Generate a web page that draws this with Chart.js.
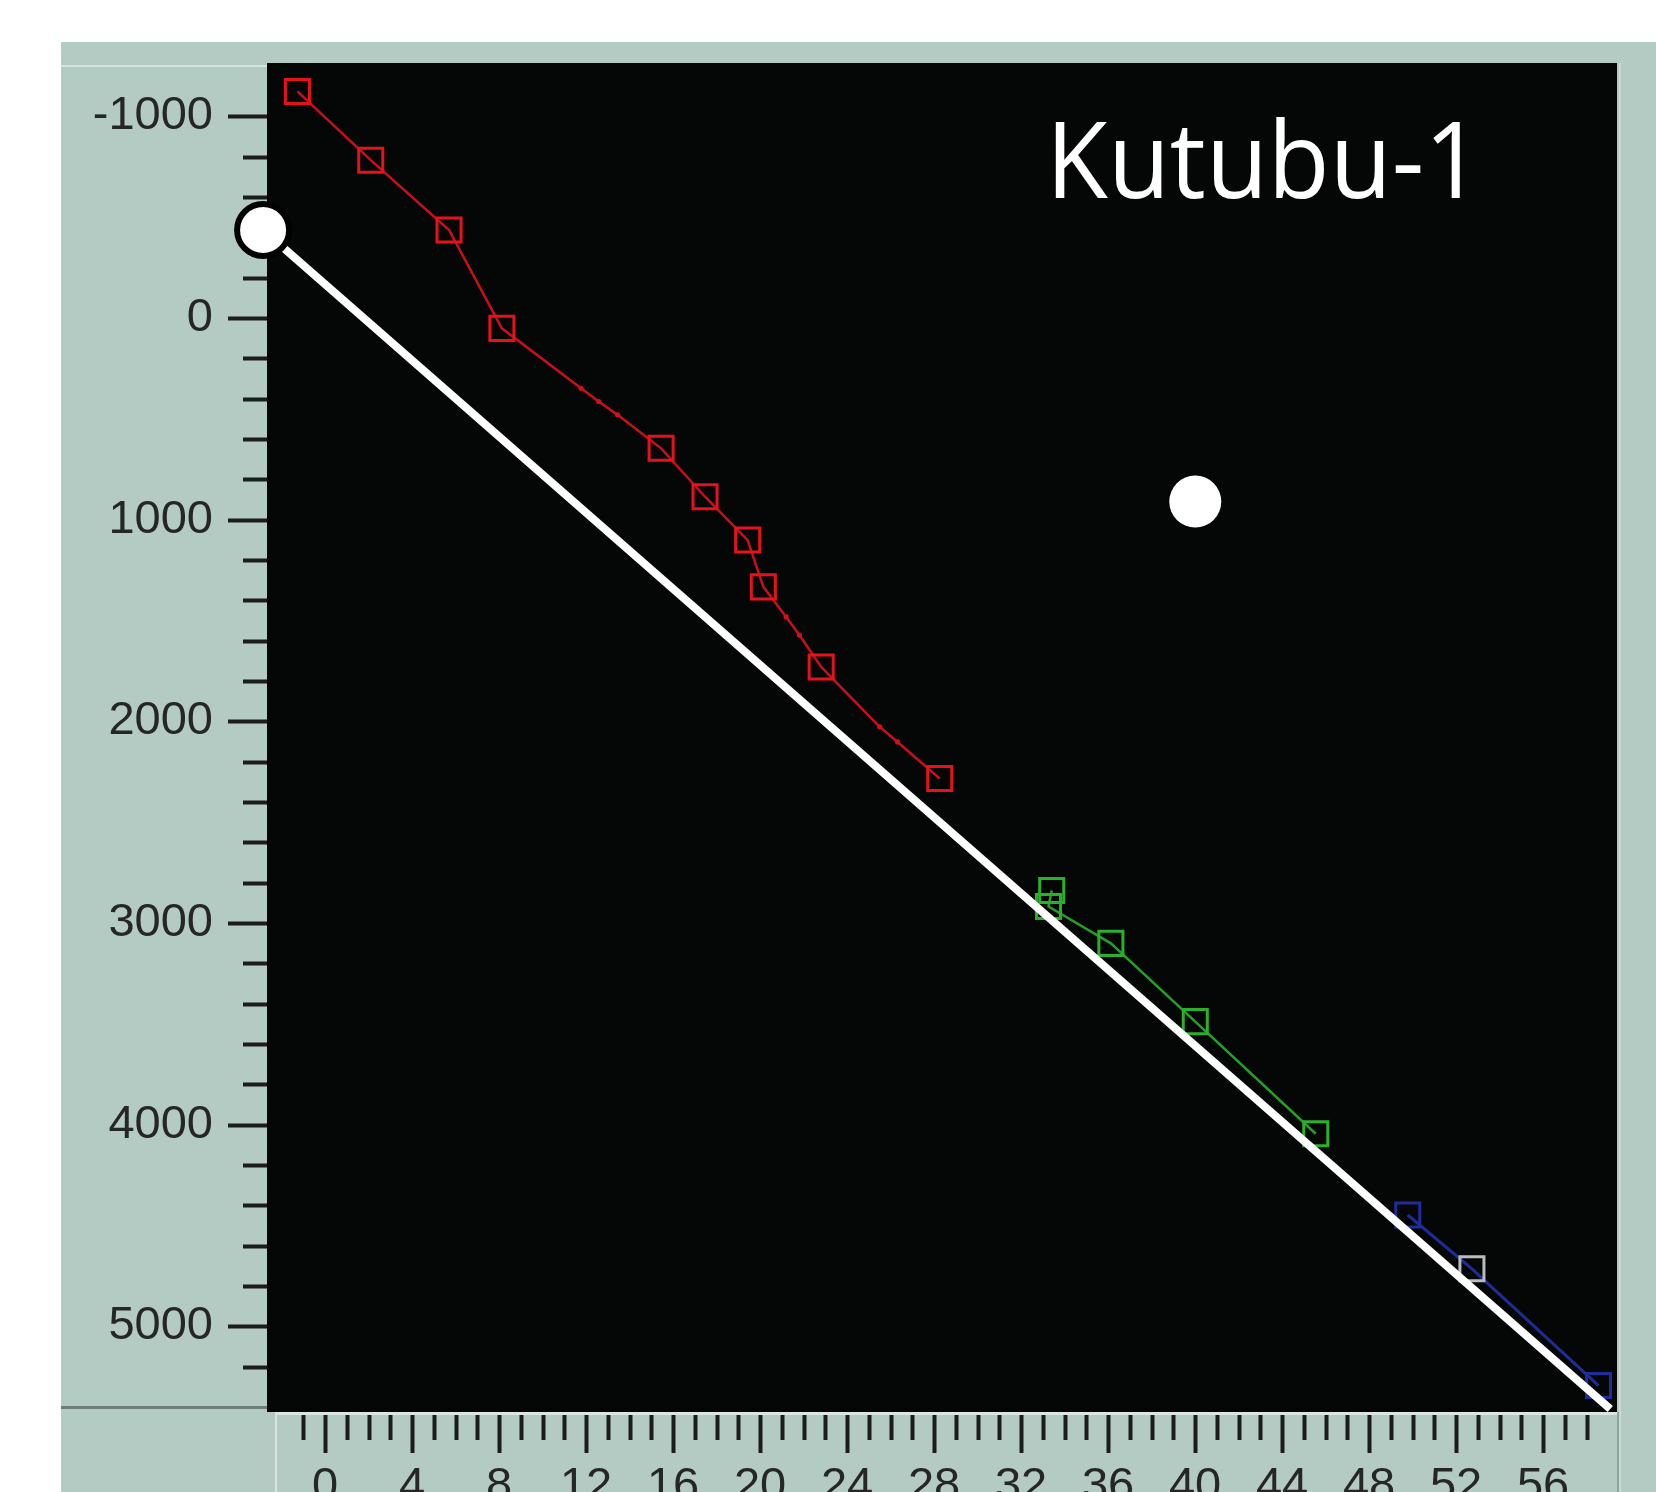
<!DOCTYPE html>
<html><head><meta charset="utf-8">
<script src="https://cdn.jsdelivr.net/npm/chart.js@4.4.1/dist/chart.umd.min.js"></script>
<style>
html,body{margin:0;padding:0;background:#fff;overflow:hidden;}
#wrap{position:relative;width:1656px;height:1492px;overflow:hidden;}
canvas{display:block;}
</style></head>
<body><div id="wrap"><canvas id="c" width="1656" height="1520" style="width:1656px;height:1520px"></canvas></div>
<script>
// ---- data ----
const chartTitle = 'Kutubu-1';
const yTickLabels = [-1000, 0, 1000, 2000, 3000, 4000, 5000];
const xTickLabels = [0, 4, 8, 12, 16, 20, 24, 28, 32, 36, 40, 44, 48, 52, 56];
const xRange = [-2.67, 59.4];
const yRange = [-1265, 5425];

const redX = [-1.27, 2.10, 5.70, 8.13, 11.77, 12.58, 13.45, 15.45, 17.47, 19.43, 20.15, 21.20, 21.81, 22.81, 25.50, 26.32, 28.26];
const redY = [-1124, -783, -437, 51, 348, 414, 480, 646, 886, 1101, 1333, 1482, 1572, 1730, 2027, 2102, 2283];
const redMarker = [1, 1, 1, 1, 0, 0, 0, 1, 1, 1, 1, 0, 0, 1, 0, 0, 1];

const greenX = [33.41, 33.26, 36.13, 40.01, 45.55];
const greenY = [2839, 2918, 3101, 3489, 4045];

const blueX = [49.78, 52.73, 58.55];
const blueY = [4448, 4715, 5294];

const trendX = [-2.85, 59.09];
const trendY = [-437, 5410];

const spotX = [40.01];
const spotY = [910];

const pts = (xs, ys) => xs.map((x, i) => ({x: x, y: ys[i]}));

// ---- plugins ----
const bgPlugin = {
  id: 'bg',
  beforeDraw(chart) {
    const c = chart.ctx, a = chart.chartArea, W = chart.width, H = chart.height;
    c.save();
    c.fillStyle = '#ffffff'; c.fillRect(0, 0, W, H);
    c.fillStyle = '#b4cbc4'; c.fillRect(61, 42, W - 61, H - 42);
    c.fillStyle = '#d3e2dd'; c.fillRect(61, 65, a.left - 61, 2);
    c.fillStyle = '#050707'; c.fillRect(a.left, a.top, a.right - a.left, a.bottom - a.top);
    c.fillStyle = '#6e7d79'; c.fillRect(61, a.bottom - 6, a.left - 61, 3);
    c.fillStyle = '#d9e6e2'; c.fillRect(275, a.bottom, a.right - 275, 3);
    c.fillRect(275, a.bottom, 2, H - a.bottom);
    c.fillStyle = '#8fa39e'; c.fillRect(a.right, a.bottom, 2, H - a.bottom);
    c.fillStyle = '#c9dad5'; c.fillRect(a.right + 2, a.top, 2, H - a.top);
    c.restore();
  },
  beforeDatasetsDraw(chart) {
    const c = chart.ctx, a = chart.chartArea;
    const ys = chart.scales.y, xs = chart.scales.x;
    c.save();
    c.strokeStyle = '#1c1c1c';
    c.lineWidth = 4;
    c.beginPath();
    ys.ticks.forEach(t => {
      const v = Math.round(t.value);
      if (Math.abs(v - t.value) > 1e-6 || v % 200 !== 0) return;
      const p = Math.round(ys.getPixelForValue(v)) + 0.5;
      const len = (v % 1000 === 0) ? 39 : 24;
      c.moveTo(a.left - len, p); c.lineTo(a.left, p);
    });
    xs.ticks.forEach(t => {
      const v = Math.round(t.value);
      if (Math.abs(v - t.value) > 1e-6) return;
      const p = Math.round(xs.getPixelForValue(v)) + 0.5;
      const len = (v % 4 === 0) ? 38 : 25;
      c.moveTo(p, a.bottom + 3); c.lineTo(p, a.bottom + 3 + len);
    });
    c.stroke();
    c.restore();
  },
  afterDatasetsDraw(chart) {
    const c = chart.ctx;
    c.save();
    c.fillStyle = '#ffffff';
    c.font = '106px "Open Sans", "Noto Sans", sans-serif';
    c.textBaseline = 'alphabetic';
    c.textAlign = 'left';
    c.fillText(chartTitle, 1046, 198, 436);
    c.restore();
  }
};

const tickFont = {family: '"Liberation Sans", Arial, sans-serif', size: 47};

new Chart(document.getElementById('c'), {
  type: 'scatter',
  data: {
    datasets: [
      {
        label: 'trend',
        data: pts(trendX, trendY),
        showLine: true,
        borderColor: '#ffffff',
        borderWidth: 8,
        pointRadius: ctx => ctx.dataIndex === 0 ? 26 : 0,
        pointBackgroundColor: '#ffffff',
        pointBorderColor: '#000000',
        pointBorderWidth: 6,
        clip: false
      },
      {
        label: 'spot',
        data: pts(spotX, spotY),
        pointRadius: 26,
        pointBackgroundColor: '#ffffff',
        pointBorderWidth: 0
      },
      {
        label: 'blue',
        data: pts(blueX, blueY),
        showLine: true,
        borderColor: '#1e2d96',
        borderWidth: 3,
        pointStyle: 'rect',
        pointRadius: 17,
        pointBackgroundColor: 'rgba(0,0,0,0)',
        pointBorderColor: ctx => ctx.dataIndex === 1 ? '#b9bcbb' : '#1e2d9c',
        pointBorderWidth: 3
      },
      {
        label: 'green',
        data: pts(greenX, greenY),
        showLine: true,
        borderColor: '#24a024',
        borderWidth: 2.5,
        pointStyle: 'rect',
        pointRadius: 17,
        pointBackgroundColor: 'rgba(0,0,0,0)',
        pointBorderColor: '#2bb02b',
        pointBorderWidth: 3
      },
      {
        label: 'red',
        data: pts(redX, redY),
        showLine: true,
        borderColor: '#c8101a',
        borderWidth: 2.5,
        pointStyle: ctx => redMarker[ctx.dataIndex] ? 'rect' : 'circle',
        pointRadius: ctx => redMarker[ctx.dataIndex] ? 17 : 2.6,
        pointBackgroundColor: ctx => redMarker[ctx.dataIndex] ? 'rgba(0,0,0,0)' : '#d0101a',
        pointBorderColor: '#e5121c',
        pointBorderWidth: ctx => redMarker[ctx.dataIndex] ? 3 : 0
      }
    ]
  },
  options: {
    responsive: false,
    animation: false,
    events: [],
    devicePixelRatio: 1,
    layout: {padding: {left: 0, right: 39, top: 63, bottom: 0}},
    elements: {line: {tension: 0}},
    plugins: {legend: {display: false}, tooltip: {enabled: false}, title: {display: false}},
    scales: {
      x: {
        type: 'linear',
        position: 'bottom',
        min: xRange[0], max: xRange[1],
        border: {display: false},
        grid: {display: false, drawTicks: false},
        ticks: {
          stepSize: 1, autoSkip: false, maxRotation: 0, minRotation: 0,
          padding: 47, color: '#262626', font: tickFont,
          callback: v => xTickLabels.includes(Math.round(v * 1000) / 1000) ? String(v) : ''
        },
        afterFit: s => { s.height = 108; s.paddingLeft = 0; s.paddingRight = 0; }
      },
      y: {
        type: 'linear',
        position: 'left',
        reverse: true,
        min: yRange[0], max: yRange[1],
        border: {display: false},
        grid: {display: false, drawTicks: false},
        ticks: {
          stepSize: 200, autoSkip: false,
          padding: 54, color: '#262626', font: tickFont,
          callback: v => yTickLabels.includes(v) ? String(v) : ''
        },
        afterFit: s => { s.width = 267; s.paddingTop = 0; s.paddingBottom = 0; }
      }
    }
  },
  plugins: [bgPlugin]
});
</script>
</body></html>
